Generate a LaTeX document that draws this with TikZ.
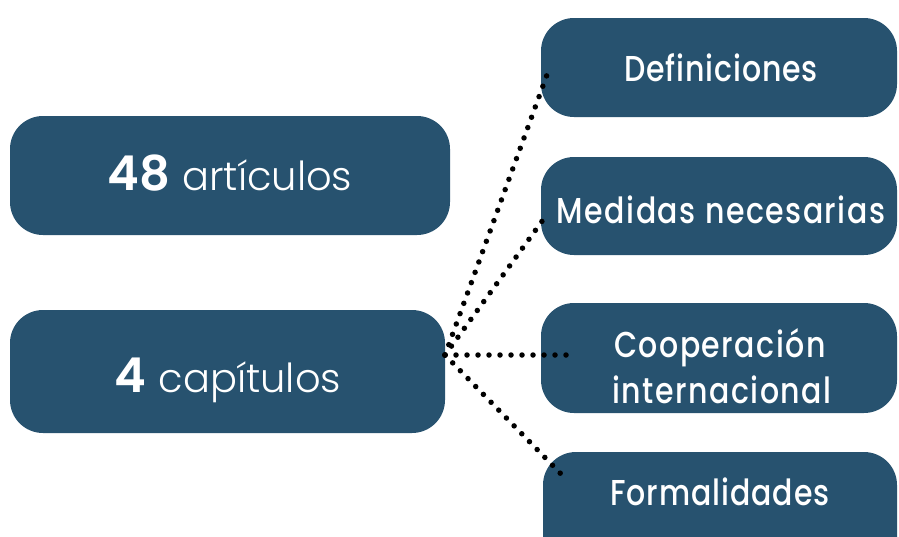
\documentclass[tikz,border=0pt]{standalone}
\usepackage{fontspec}
\usepackage{graphicx}
\setmainfont{Poppins}
\newfontfamily\lightfont{Poppins Light}
\newfontfamily\medfont[LetterSpace=3]{Poppins Medium}
\newfontfamily\medwidefont[LetterSpace=5]{Poppins Medium}
\newfontfamily\semifont{Poppins SemiBold}
\definecolor{boxblue}{HTML}{27526F}
\newcommand{\tallT}[1]{\scalebox{1}[1.2]{#1}}
\begin{document}
\begin{tikzpicture}[x=1pt,y=-1pt,
  box/.style={fill=boxblue,rounded corners=33pt,inner sep=0pt},
  ltxt/.style={text=white,inner sep=0pt,anchor=base},
  rtxt/.style={text=white,inner sep=0pt,anchor=base,font=\medfont\fontsize{30}{36}\selectfont},
  dotline/.style={line width=5.5pt,line cap=round,dash pattern=on 0pt off 11pt}]
\useasboundingbox (0,0) rectangle (899,536);
\begin{scope}
\clip (0,0) rectangle (899,536);
\node[box,minimum width=440pt,minimum height=119pt] (art) at (230,175.5) {};
\node[box,minimum width=435pt,minimum height=123pt] (cap) at (227.5,371.5) {};
\node[box,minimum width=356pt,minimum height=99pt] (def) at (719,67.5) {};
\node[box,minimum width=356pt,minimum height=98pt] (med) at (719,206) {};
\node[box,minimum width=356pt,minimum height=110pt] (coop) at (719,358) {};
\node[box,minimum width=354pt,minimum height=120pt] (form) at (720,512) {};
\end{scope}
\node[ltxt] (arttext) at (230,190)
  {{\semifont\fontsize{48}{56}\selectfont 48}\hspace{12pt}{\lightfont\fontsize{40}{46}\selectfont artículos}};
\node[ltxt] (captext) at (228,392)
  {{\semifont\fontsize{48}{56}\selectfont 4}\hspace{12pt}{\lightfont\fontsize{40}{46}\selectfont capítulos}};
\node[rtxt] (deftext) at (721,81) {\tallT{Definiciones}};
\node[rtxt,font=\medwidefont\fontsize{30}{36}\selectfont] (medtext) at (721,223) {\tallT{Medidas necesarias}};
\node[rtxt,font=\medwidefont\fontsize{30}{36}\selectfont] (cooptext1) at (720,357) {\tallT{Cooperación}};
\node[rtxt,font=\medwidefont\fontsize{30}{36}\selectfont] (cooptext2) at (722,403) {\tallT{internacional}};
\node[rtxt] (formtext) at (720,505) {\tallT{Formalidades}};
\coordinate (hub) at (445,355);
\coordinate (defend) at (548,72);
\coordinate (medend) at (548,213);
\coordinate (coopend) at (568,355);
\coordinate (formend) at (562,475);
\draw[dotline] (hub) -- (defend);
\draw[dotline] (hub) -- (medend);
\draw[dotline] (hub) -- (coopend);
\draw[dotline] (hub) -- (formend);
\end{tikzpicture}
\end{document}
